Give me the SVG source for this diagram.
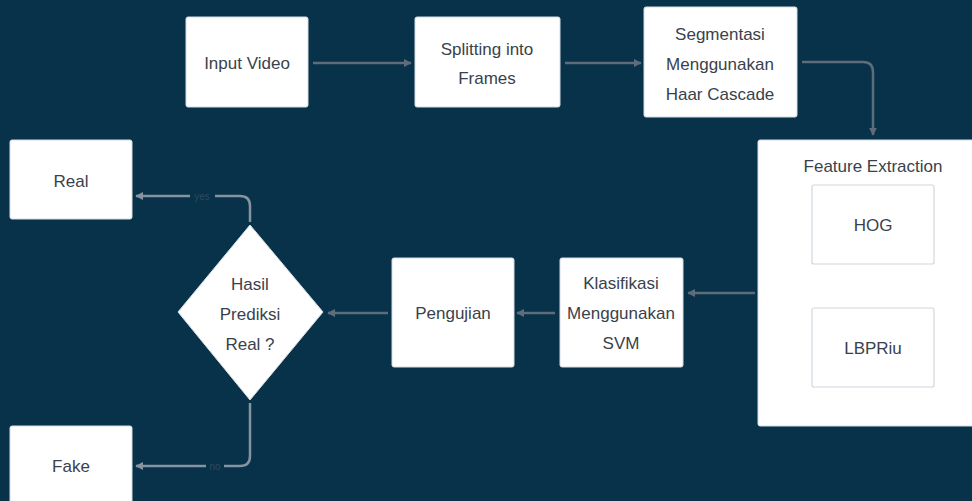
<svg xmlns="http://www.w3.org/2000/svg" width="972" height="501" viewBox="0 0 972 501">
<defs>
<style>
.box{fill:#ffffff;stroke:#d5dce3;stroke-width:1}
.inner{fill:#ffffff;stroke:#cfd7df;stroke-width:1.2}
.t{font-family:"Liberation Sans",Arial,sans-serif;font-size:17px;fill:#39424c;text-anchor:middle}
.c{fill:none;stroke:#5f6d7a;stroke-width:2.5}
.c2{fill:none;stroke:#8794a0;stroke-width:2.5}
.lbl{font-family:"Liberation Sans",Arial,sans-serif;font-size:10px;fill:#2c4a5f;text-anchor:middle}
</style>
<marker id="ah" viewBox="0 0 10 10" refX="9" refY="5" markerWidth="3.2" markerHeight="3.2" orient="auto" markerUnits="strokeWidth">
<path d="M0,0 L10,5 L0,10 z" fill="#5f6d7a"/>
</marker>
<marker id="ah2" viewBox="0 0 10 10" refX="9" refY="5" markerWidth="3.2" markerHeight="3.2" orient="auto" markerUnits="strokeWidth">
<path d="M0,0 L10,5 L0,10 z" fill="#8794a0"/>
</marker>
</defs>
<rect x="0" y="0" width="972" height="501" fill="#07324a"/>

<g id="connectors">
<path class="c" d="M313,63 L411,63" marker-end="url(#ah)"/>
<path class="c" d="M565,63 L641,63" marker-end="url(#ah)"/>
<path class="c" d="M802,62 L863,62 Q873,62 873,72 L873,135" marker-end="url(#ah)"/>
<path class="c" d="M755,293 L688,293" marker-end="url(#ah)"/>
<path class="c" d="M555,313 L517,313" marker-end="url(#ah)"/>
<path class="c" d="M388,313 L328,313" marker-end="url(#ah)"/>
<path class="c2" d="M250,222 L250,206 Q250,196 240,196 L136,196" marker-end="url(#ah2)"/>
<path class="c2" d="M250,403 L250,456 Q250,466 240,466 L136,466" marker-end="url(#ah2)"/>
<rect x="190" y="190" width="25" height="12" fill="#07324a"/>
<text class="lbl" x="202" y="200">yes</text>
<rect x="206" y="460" width="18" height="12" fill="#07324a"/>
<text class="lbl" x="215" y="470">no</text>
</g>

<g id="input-video">
<rect class="box" x="186" y="17" width="122" height="90" rx="2"/>
<text class="t" x="247" y="69">Input Video</text>
</g>
<g id="splitting">
<rect class="box" x="415" y="17" width="145" height="90" rx="2"/>
<text class="t" x="487" y="55">Splitting into</text>
<text class="t" x="487" y="84">Frames</text>
</g>
<g id="segmentasi">
<rect class="box" x="644" y="7" width="153" height="110" rx="2"/>
<text class="t" x="720" y="40">Segmentasi</text>
<text class="t" x="720" y="70">Menggunakan</text>
<text class="t" x="720" y="100">Haar Cascade</text>
</g>
<g id="feature-extraction">
<rect class="box" x="758" y="140" width="230" height="286" rx="2"/>
<text class="t" x="873" y="172">Feature Extraction</text>
</g>
<g id="hog">
<rect class="inner" x="812" y="185" width="122" height="79" rx="2"/>
<text class="t" x="873" y="231">HOG</text>
</g>
<g id="lbpriu">
<rect class="inner" x="812" y="308" width="122" height="79" rx="2"/>
<text class="t" x="873" y="354">LBPRiu</text>
</g>
<g id="klasifikasi">
<rect class="box" x="560" y="258" width="123" height="109" rx="2"/>
<text class="t" x="621" y="289">Klasifikasi</text>
<text class="t" x="621" y="319">Menggunakan</text>
<text class="t" x="621" y="349">SVM</text>
</g>
<g id="pengujian">
<rect class="box" x="392" y="258" width="122" height="109" rx="2"/>
<text class="t" x="453" y="319">Pengujian</text>
</g>
<g id="hasil-prediksi">
<path class="box" d="M250,225 L323,312 L250,400 L178,312 Z" stroke-linejoin="round"/>
<text class="t" x="250" y="290">Hasil</text>
<text class="t" x="250" y="320">Prediksi</text>
<text class="t" x="250" y="350">Real ?</text>
</g>
<g id="real">
<rect class="box" x="10" y="140" width="122" height="79" rx="2"/>
<text class="t" x="71" y="187">Real</text>
</g>
<g id="fake">
<rect class="box" x="10" y="426" width="122" height="90" rx="2"/>
<text class="t" x="71" y="472">Fake</text>
</g>
</svg>
